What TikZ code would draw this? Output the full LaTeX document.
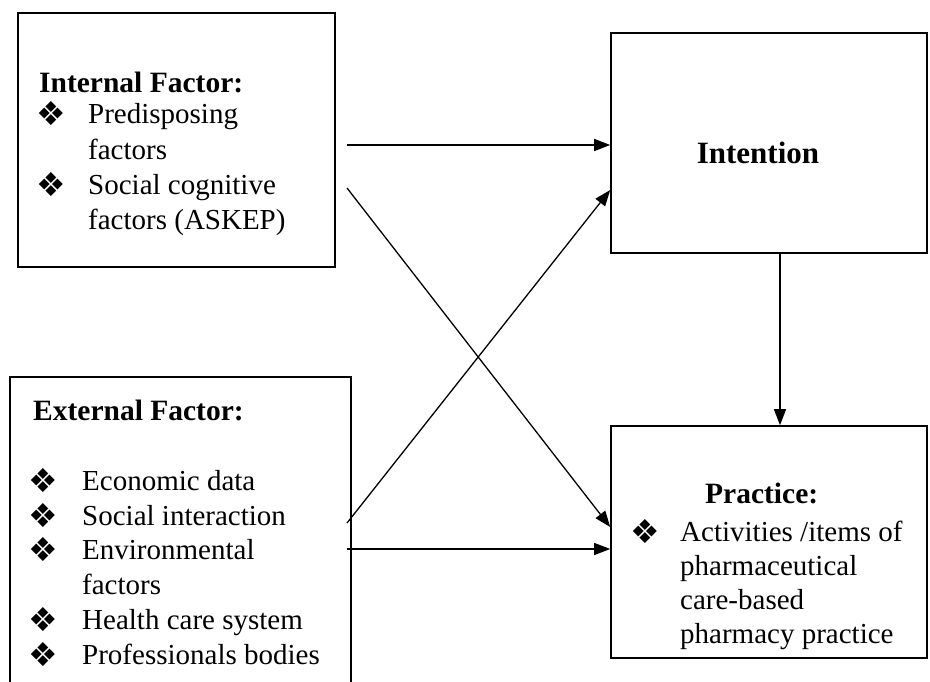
\documentclass[tikz,border=0pt]{standalone}
\usepackage{fontspec}
\setmainfont{Liberation Serif}
\newfontfamily\dejavu{DejaVu Sans}
\usetikzlibrary{arrows.meta}
\tikzset{
  box/.style={draw=black, line width=1.6pt, rectangle, inner sep=0pt},
  arr/.style={draw=black, line width=1.3pt, -{Triangle[length=16pt,width=12pt]}},
  txt/.style={anchor=base west, inner sep=0pt, font=\fontsize{29}{35}\selectfont},
  ttl/.style={anchor=base west, inner sep=0pt, font=\fontsize{29.5}{36}\selectfont\bfseries},
  bul/.style={anchor=center, inner sep=0pt, font=\dejavu\fontsize{33}{33}\selectfont}
}
\begin{document}
\begin{tikzpicture}[x=1pt,y=-1pt]
\useasboundingbox (0,0) rectangle (930,681);
\fill[white] (0,0) rectangle (930,681);
\clip (0,0) rectangle (930,681);
% boxes
\node[box, minimum width=317pt, minimum height=254pt] (internal) at (176.5,140) {};
\node[box, minimum width=341pt, minimum height=330pt] (external) at (180.5,542) {};
\node[box, minimum width=316pt, minimum height=220pt] (intention) at (769,143) {};
\node[box, minimum width=316pt, minimum height=232pt] (practice) at (769,542) {};
% internal texts
\node[ttl] (t1) at (39,92) {Internal Factor:};
\node[bul] (b11) at (51,114) {❖};
\node[txt] (l11) at (88,123) {Predisposing};
\node[txt] (l12) at (88,159) {factors};
\node[bul] (b12) at (51,185) {❖};
\node[txt] (l13) at (88,194) {Social cognitive};
\node[txt] (l14) at (88,229) {factors (ASKEP)};
% external texts
\node[ttl] (t2) at (33,420) {External Factor:};
\node[bul] (b21) at (43,481) {❖};
\node[txt] (l21) at (82,490) {Economic data};
\node[bul] (b22) at (43,516) {❖};
\node[txt] (l22) at (82,525) {Social interaction};
\node[bul] (b23) at (43,550) {❖};
\node[txt] (l23) at (82,559) {Environmental};
\node[txt] (l24) at (82,594) {factors};
\node[bul] (b24) at (43,620) {❖};
\node[txt] (l25) at (82,629) {Health care system};
\node[bul] (b25) at (43,655) {❖};
\node[txt] (l26) at (82,664) {Professionals bodies};
% intention text
\node[anchor=base, inner sep=0pt, font=\fontsize{31}{36}\selectfont\bfseries] (t3) at (758,163) {Intention};
% practice texts
\node[ttl] (t4) at (705,503) {Practice:};
\node[bul] (b41) at (645,532) {❖};
\node[txt] (l41) at (680,541) {Activities /items of};
\node[txt] (l42) at (680,575) {pharmaceutical};
\node[txt] (l43) at (680,609) {care-based};
\node[txt] (l44) at (680,643) {pharmacy practice};
% connector start points
\coordinate (s1) at (347,145);
\coordinate (s2) at (347,188);
\coordinate (s3) at (347,523);
\coordinate (s4) at (347,549);
% connectors
\draw[arr] (s1) -- (s1 -| intention.west);
\draw[arr] (s2) -- ([yshift=15pt]practice.west);
\draw[arr] (s3) -- ([yshift=-47pt]intention.west);
\draw[arr] (s4) -- (s4 -| practice.west);
\draw[arr] ([xshift=11pt]intention.south) -- ([xshift=11pt]practice.north);
\end{tikzpicture}
\end{document}
